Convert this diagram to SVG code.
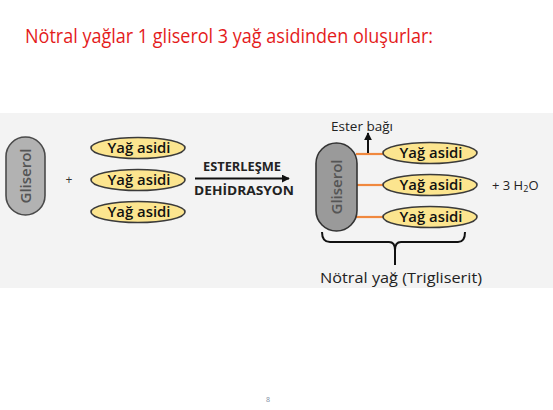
<svg xmlns="http://www.w3.org/2000/svg" width="553" height="410" viewBox="0 0 553 410">
<defs>
<style>
.lbl{font-family:"Open Sans","Liberation Sans",sans-serif;}
.ya{fill:#fce58f;stroke:#3a3a3a;stroke-width:1.6;}
.yt{font-family:"Open Sans","Liberation Sans",sans-serif;font-size:14.5px;font-weight:600;fill:#111;text-anchor:middle;}
.gl{font-family:"Open Sans","Liberation Sans",sans-serif;font-size:15px;font-weight:600;fill:#555;text-anchor:middle;}
.bond{stroke:#f0883e;stroke-width:2.2;}
</style>
<marker id="ah" viewBox="0 0 10 10" refX="9" refY="5" markerWidth="4" markerHeight="4" orient="auto"><path d="M0,0L10,5L0,10z" fill="#111"/></marker>
</defs>
<rect width="553" height="410" fill="#fff"/>
<text x="25" y="43" class="lbl" font-size="19.5" fill="#e41b1b" textLength="408" lengthAdjust="spacingAndGlyphs">Nötral yağlar 1 gliserol 3 yağ asidinden oluşurlar:</text>
<rect x="0" y="113" width="553" height="175" fill="#f3f3f3"/>

<g id="gliserol1">
<rect x="6" y="137" width="39" height="78" rx="19.5" fill="#b2b2b2" stroke="#4a4a4a" stroke-width="1.6"/>
<text class="gl" transform="translate(30.5,176) rotate(-90)">Gliserol</text>
</g>
<g id="plus1"><text x="69" y="184" class="lbl" font-size="12" fill="#333" text-anchor="middle">+</text></g>
<g id="ya1"><ellipse class="ya" cx="138" cy="148" rx="47" ry="10.5"/><text class="yt" x="139" y="153" textLength="63" lengthAdjust="spacingAndGlyphs">Yağ asidi</text></g>
<g id="ya2"><ellipse class="ya" cx="138" cy="180" rx="47" ry="10.5"/><text class="yt" x="139" y="185" textLength="63" lengthAdjust="spacingAndGlyphs">Yağ asidi</text></g>
<g id="ya3"><ellipse class="ya" cx="138" cy="212" rx="47" ry="10.5"/><text class="yt" x="139" y="217" textLength="63" lengthAdjust="spacingAndGlyphs">Yağ asidi</text></g>

<g id="connectors">
<line x1="195" y1="178.5" x2="289" y2="178.5" stroke="#111" stroke-width="2" marker-end="url(#ah)"/>
<line class="bond" x1="356" y1="154" x2="386" y2="154"/>
<line class="bond" x1="356" y1="185" x2="386" y2="185"/>
<line class="bond" x1="356" y1="217" x2="386" y2="217"/>
<line x1="368" y1="153" x2="368" y2="133" stroke="#111" stroke-width="2" marker-end="url(#ah)"/>
<path d="M322,232 Q322,242 330,242 L389,242 Q395,242 395,250 L395,265 M395,250 Q395,242 401,242 L458,242 Q465,242 465,232" fill="none" stroke="#111" stroke-width="2"/>
</g>

<g id="reaction">
<text x="242" y="171" class="lbl" font-size="12" font-weight="700" fill="#222" text-anchor="middle" textLength="78" lengthAdjust="spacingAndGlyphs">ESTERLEŞME</text>
<text x="244" y="195" class="lbl" font-size="12" font-weight="700" fill="#222" text-anchor="middle" textLength="100" lengthAdjust="spacingAndGlyphs">DEHİDRASYON</text>
</g>

<g id="gliserol2">
<rect x="316" y="143" width="41" height="88" rx="20.5" fill="#9a9a9a" stroke="#333" stroke-width="1.6"/>
<text class="gl" transform="translate(342,187) rotate(-90)">Gliserol</text>
</g>
<g id="ya4"><ellipse class="ya" cx="430" cy="153" rx="47" ry="10.5"/><text class="yt" x="431" y="158" textLength="63" lengthAdjust="spacingAndGlyphs">Yağ asidi</text></g>
<g id="ya5"><ellipse class="ya" cx="430" cy="185" rx="47" ry="10.5"/><text class="yt" x="431" y="190" textLength="63" lengthAdjust="spacingAndGlyphs">Yağ asidi</text></g>
<g id="ya6"><ellipse class="ya" cx="430" cy="217" rx="47" ry="10.5"/><text class="yt" x="431" y="222" textLength="63" lengthAdjust="spacingAndGlyphs">Yağ asidi</text></g>

<g id="esterbagi"><text x="362" y="131" class="lbl" font-size="13.5" fill="#222" text-anchor="middle">Ester bağı</text></g>
<g id="water"><text x="492" y="190" class="lbl" font-size="13" fill="#222">+ 3 H<tspan font-size="9" dy="2">2</tspan><tspan dy="-2">O</tspan></text></g>
<g id="notral"><text x="401" y="283" class="lbl" font-size="15" fill="#222" text-anchor="middle" textLength="162" lengthAdjust="spacingAndGlyphs">Nötral yağ (Trigliserit)</text></g>

<text x="268" y="402" class="lbl" font-size="7" fill="#7a8aa0" text-anchor="middle">8</text>
</svg>
